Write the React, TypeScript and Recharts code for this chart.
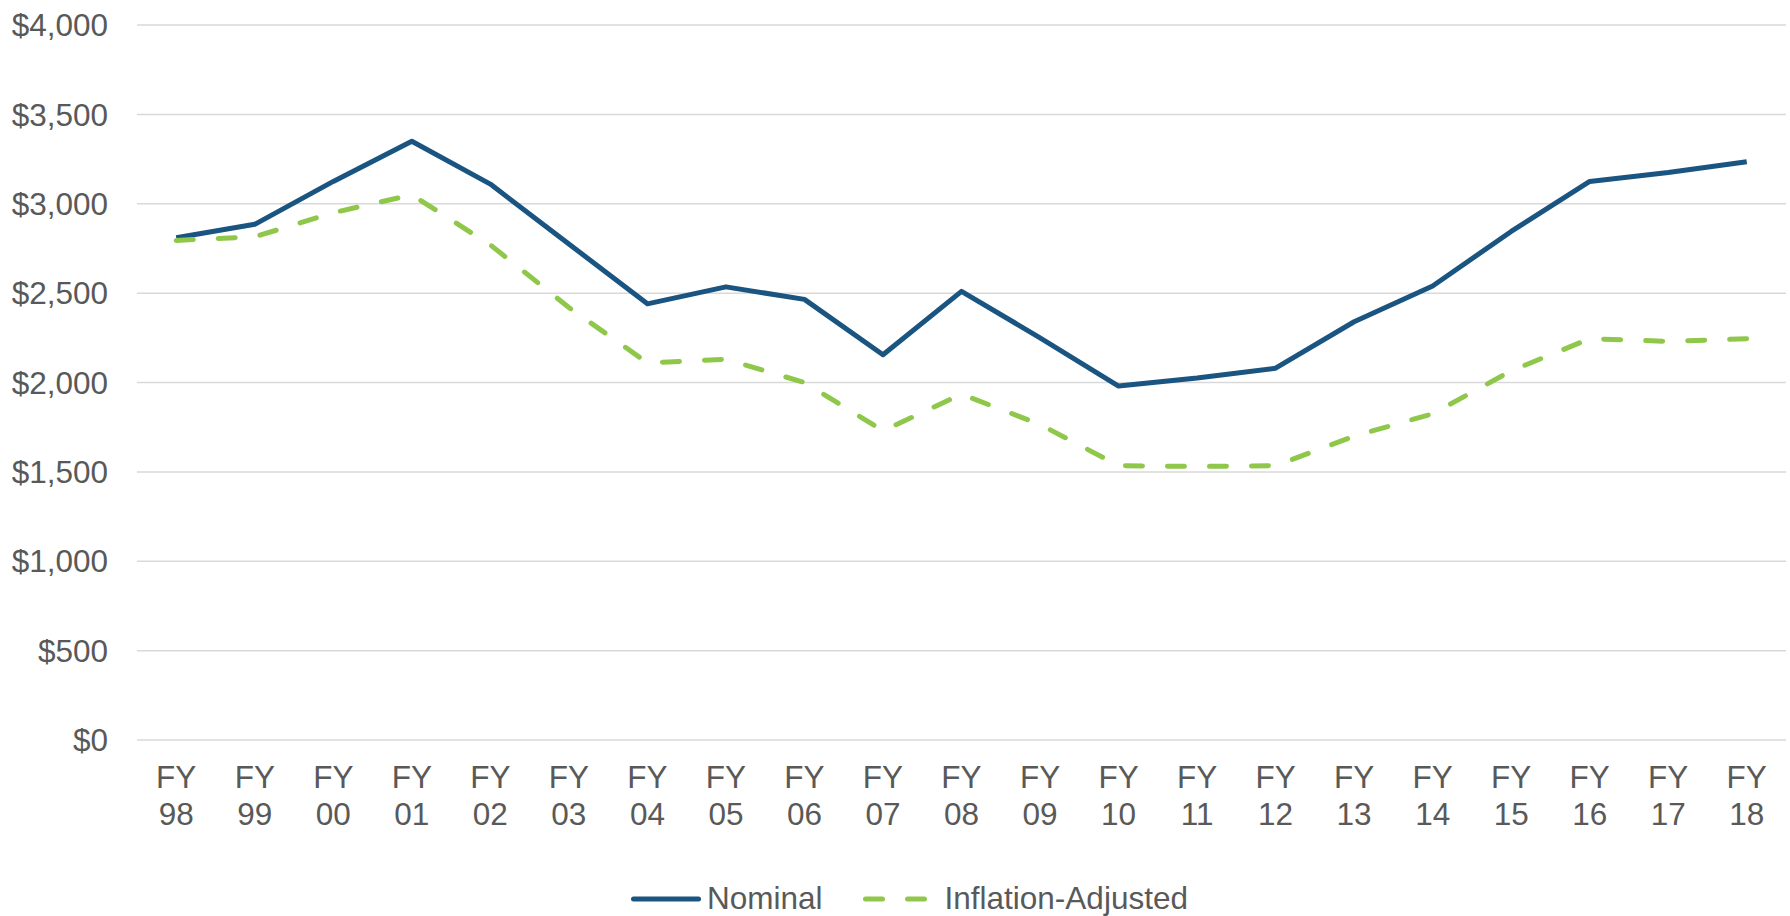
import React from 'react';
import { LineChart, Line, XAxis, YAxis, CartesianGrid, Legend } from 'recharts';

const years = ['98', '99', '00', '01', '02', '03', '04', '05', '06', '07', '08', '09', '10', '11', '12', '13', '14', '15', '16', '17', '18'];
const nominal = [2810, 2885, 3125, 3350, 3110, 2775, 2440, 2535, 2465, 2155, 2510, 2250, 1980, 2025, 2080, 2340, 2540, 2845, 3125, 3175, 3235];
const inflationAdjusted = [2795, 2815, 2950, 3050, 2770, 2420, 2110, 2130, 2000, 1730, 1935, 1765, 1535, 1530, 1535, 1700, 1825, 2065, 2245, 2230, 2245];
const yTicks = [0, 500, 1000, 1500, 2000, 2500, 3000, 3500, 4000];

const BLUE = '#1A5480';
const GREEN = '#8FC74A';
const TEXT = '#595959';
const FONT = '"Liberation Sans", Arial, sans-serif';
const FS = 31.5;

const data = years.map((y, i) => ({ year: y, nominal: nominal[i], adjusted: inflationAdjusted[i] }));

const fmtDollar = (v: number) => '$' + v.toLocaleString('en-US');

const XTick = (props: any) => {
    const { x, y, payload } = props;
    return (
        <text x={x} y={y} textAnchor="middle" fill={TEXT} fontSize={FS} fontFamily={FONT}>
            <tspan x={x} dy={48}>FY</tspan>
            <tspan x={x} dy={37.3}>{payload.value}</tspan>
        </text>
    );
};

const renderLegend = () => (
    <div style={{ width: 1790, height: 56, position: 'relative', fontFamily: FONT, fontSize: FS, color: TEXT }}>
        <div style={{ position: 'absolute', left: 631, top: 20, display: 'flex', alignItems: 'center', whiteSpace: 'nowrap' }}>
            <svg width={70} height={10}>
                <line x1={2.5} x2={67.5} y1={5} y2={5} stroke={BLUE} strokeWidth={5} strokeLinecap="round" />
            </svg>
            <span style={{ marginLeft: 6 }}>Nominal</span>
            <svg width={70} height={10} style={{ marginLeft: 40 }}>
                <line x1={2.5} x2={67.5} y1={5} y2={5} stroke={GREEN} strokeWidth={5} strokeLinecap="round" strokeDasharray="17 25" />
            </svg>
            <span style={{ marginLeft: 12 }}>Inflation-Adjusted</span>
        </div>
    </div>
);

export default function App() {
    return (
        <div style={{ position: 'absolute', left: 0, top: 0, width: 1790, height: 916, background: '#fff' }}>
            <LineChart width={1790} height={916} data={data} margin={{ top: 25, right: 4, left: 0, bottom: 0 }}>
                <CartesianGrid vertical={false} stroke="#D9D9D9" strokeWidth={1.5} />
                <XAxis
                    dataKey="year"
                    interval={0}
                    axisLine={false}
                    tickLine={false}
                    tickSize={0}
                    tickMargin={0}
                    height={120}
                    padding={{ left: 39.25, right: 39.25 }}
                    tick={<XTick />}
                />
                <YAxis
                    width={137}
                    domain={[0, 4000]}
                    ticks={yTicks}
                    axisLine={false}
                    tickLine={false}
                    tickSize={0}
                    tickMargin={29}
                    tickFormatter={fmtDollar}
                    tick={{ fill: TEXT, fontSize: FS, fontFamily: FONT }}
                />
                <Legend verticalAlign="bottom" height={56} content={renderLegend} wrapperStyle={{ left: 0, bottom: 0, width: 1790, height: 56 }} />
                <Line
                    type="linear"
                    dataKey="nominal"
                    name="Nominal"
                    stroke={BLUE}
                    strokeWidth={5}
                    strokeLinejoin="round"
                    dot={false}
                    activeDot={false}
                    isAnimationActive={false}
                />
                <Line
                    type="linear"
                    dataKey="adjusted"
                    name="Inflation-Adjusted"
                    stroke={GREEN}
                    strokeWidth={5}
                    strokeDasharray="17 25"
                    strokeLinecap="round"
                    strokeLinejoin="round"
                    dot={false}
                    activeDot={false}
                    isAnimationActive={false}
                />
            </LineChart>
        </div>
    );
}
